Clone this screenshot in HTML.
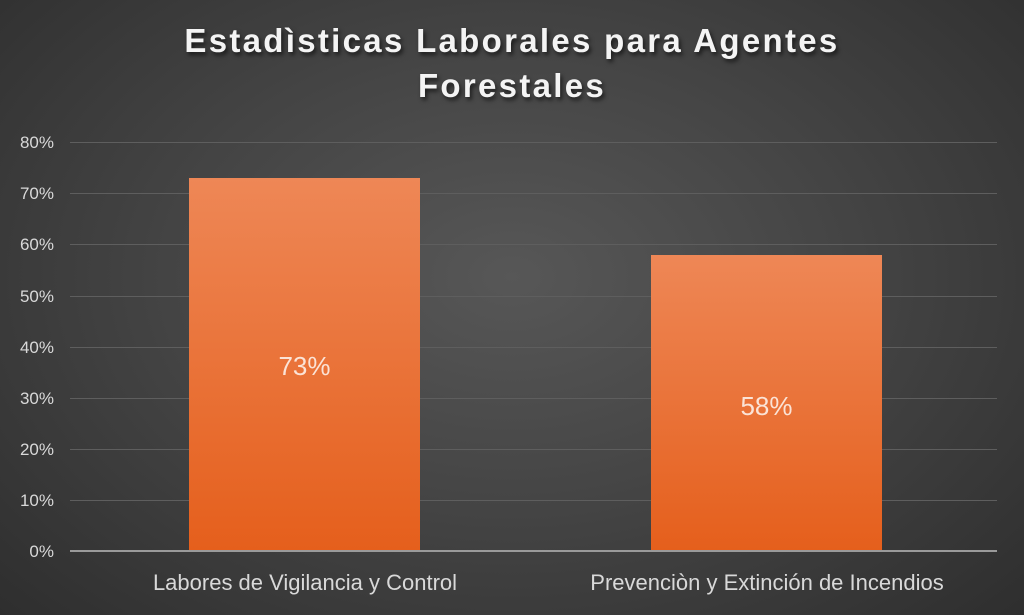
<!DOCTYPE html>
<html><head><meta charset="utf-8"><style>
html,body{margin:0;padding:0}
body{width:1024px;height:615px;overflow:hidden;background:radial-gradient(ellipse 75% 85% at 50% 45%,#575757 0%,#444 45%,#2b2b2b 100%);font-family:"Liberation Sans",sans-serif;position:relative}
.t{position:absolute;left:0;width:1024px;text-align:center;color:#f4f4f4;font-weight:bold;font-size:33px;letter-spacing:2.3px;text-shadow:2px 3px 4px rgba(0,0,0,.6)}
.g{position:absolute;left:70px;width:927px;height:1px;background:#5e5e5e}
.y{position:absolute;left:0;width:54px;text-align:right;color:#d9d9d9;font-size:17px}
.b{position:absolute;width:231px;background:linear-gradient(#ee8756,#e55f1c)}
.v{position:absolute;width:231px;text-align:center;color:#fbe3d6;font-size:26px}
.x{position:absolute;width:460px;text-align:center;color:#d9d9d9;font-size:22px;top:570px}
</style></head><body>
<div class="t" style="top:22px">Estadìsticas Laborales para Agentes</div>
<div class="t" style="top:67px">Forestales</div>
<div class="g" style="top:142px"></div><div class="g" style="top:193px"></div><div class="g" style="top:244px"></div><div class="g" style="top:296px"></div><div class="g" style="top:347px"></div><div class="g" style="top:398px"></div><div class="g" style="top:449px"></div><div class="g" style="top:500px"></div>
<div class="y" style="top:133px">80%</div><div class="y" style="top:184px">70%</div><div class="y" style="top:235px">60%</div><div class="y" style="top:287px">50%</div><div class="y" style="top:338px">40%</div><div class="y" style="top:389px">30%</div><div class="y" style="top:440px">20%</div><div class="y" style="top:491px">10%</div><div class="y" style="top:542px">0%</div>
<div class="b" style="left:189px;top:178px;height:373px"></div>
<div class="b" style="left:651px;top:255px;height:296px"></div>
<div class="v" style="left:189px;top:351px">73%</div>
<div class="v" style="left:651px;top:391px">58%</div>
<div class="g" style="top:550px;height:2px;background:#9a9a9a"></div>
<div class="x" style="left:75px">Labores de Vigilancia y Control</div>
<div class="x" style="left:537px">Prevenciòn y Extinción de Incendios</div>
</body></html>
